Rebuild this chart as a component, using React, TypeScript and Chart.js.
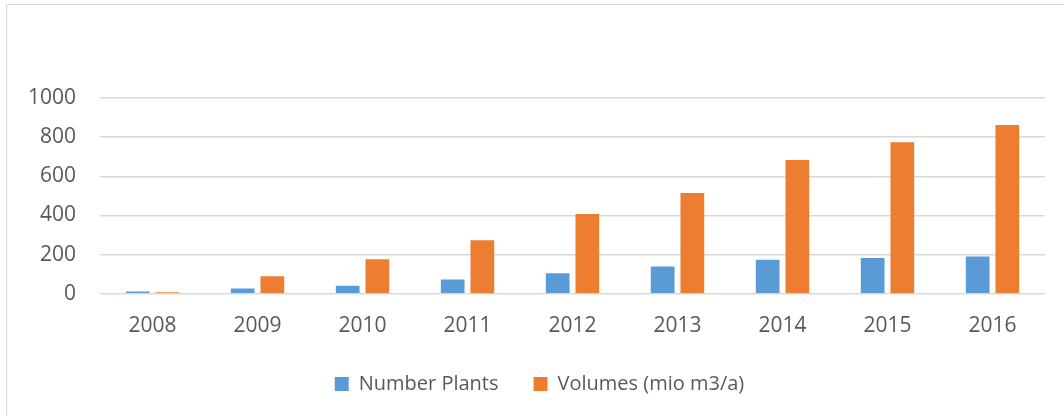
import React, { useEffect, useRef } from "react";
import { Chart, registerables } from "chart.js";

Chart.register(...registerables);

const years = ["2008", "2009", "2010", "2011", "2012", "2013", "2014", "2015", "2016"];
const numberPlants = [12, 27, 41, 73, 105, 140, 174, 183, 191];
const volumes = [8, 90, 176, 273, 408, 515, 683, 774, 862];
const yTicks = [0, 200, 400, 600, 800, 1000];

const FONT = "'Open Sans', 'Noto Sans', sans-serif";
const TEXT = "#595959";
const LEGEND_PAD = 35;
const LEGEND_FONT = 20;
const LEGEND_CENTER_Y = 384;
const LEGEND_SHIFT_X = 15;

const legendMover = {
  id: "legendMover",
  afterLayout(chart: any) {
    const lg = chart.legend;
    if (!lg) return;
    const h = lg.height;
    lg.top = LEGEND_CENTER_Y - LEGEND_PAD - LEGEND_FONT / 2;
    lg.bottom = lg.top + h;
    lg.left += LEGEND_SHIFT_X;
    lg.right += LEGEND_SHIFT_X;
  },
};

export default function App() {
  const ref = useRef<HTMLCanvasElement | null>(null);

  useEffect(() => {
    if (!ref.current) return;
    const chart = new Chart(ref.current, {
      type: "bar",
      data: {
        labels: years,
        datasets: [
          {
            label: "Number Plants",
            data: numberPlants,
            backgroundColor: "#5B9BD5",
            categoryPercentage: 0.565,
            barPercentage: 0.8,
          },
          {
            label: "Volumes (mio m3/a)",
            data: volumes,
            backgroundColor: "#ED7D31",
            categoryPercentage: 0.565,
            barPercentage: 0.8,
          },
        ],
      },
      plugins: [legendMover],
      options: {
        animation: false,
        responsive: false,
        maintainAspectRatio: false,
        layout: { padding: { left: 4, right: 43, top: 98, bottom: -8 } },
        plugins: {
          tooltip: { enabled: false },
          legend: {
            position: "bottom",
            labels: {
              boxWidth: 14,
              boxHeight: 14,
              padding: LEGEND_PAD,
              color: TEXT,
              font: { family: FONT, size: LEGEND_FONT },
            },
          },
        },
        scales: {
          x: {
            grid: { display: false, drawTicks: false },
            border: { display: false },
            ticks: { color: TEXT, font: { family: FONT, size: 21 }, padding: 20 },
          },
          y: {
            min: 0,
            max: 1000,
            afterBuildTicks: (axis: any) => {
              axis.ticks = yTicks.map((v) => ({ value: v }));
            },
            grid: { color: "#d9d9d9", lineWidth: 1.5, drawTicks: false },
            border: { display: false },
            ticks: {
              color: TEXT,
              font: { family: FONT, size: 21 },
              padding: 24,
              callback: (v: any) => String(v),
            },
          },
        },
      },
    });
    return () => chart.destroy();
  }, []);

  return (
    <div
      style={{
        position: "fixed",
        left: 0,
        top: 0,
        width: 1064,
        height: 416,
        overflow: "hidden",
        background: "#fff",
      }}
    >
      <div
        style={{
          position: "absolute",
          left: 6,
          top: 4,
          width: 1200,
          height: 600,
          border: "1px solid #d9d9d9",
          boxSizing: "border-box",
        }}
      />
      <canvas
        ref={ref}
        width={1088}
        height={416}
        style={{ position: "absolute", left: 0, top: 0, width: 1088, height: 416 }}
      />
    </div>
  );
}
